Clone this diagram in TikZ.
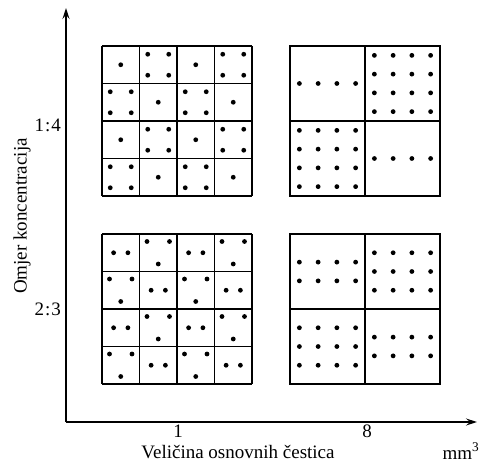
\documentclass[tikz,border=0pt]{standalone}
\usepackage{fontspec}
\setmainfont{Liberation Serif}
\usetikzlibrary{arrows.meta}
\begin{document}
\begin{tikzpicture}[x=1bp,y=-1bp,
  axis/.style={line width=1.5bp, -{Stealth[length=11bp,width=7bp,inset=4bp]}},
  frame/.style={line width=1.3bp},
  lbl/.style={font=\fontsize{19bp}{21bp}\selectfont, inner sep=0pt}]
\useasboundingbox (0,0) rectangle (484,464);
\newcommand\pdot[2]{\fill (#1,#2) circle[radius=2.4bp];}
% axes
\coordinate (O) at (66,422);
\coordinate (ytip) at (66,8);
\coordinate (xtip) at (477,422);
\draw[axis] (O) -- (ytip);
\draw[axis] (O) -- (xtip);
% axis labels
\node[lbl, anchor=east] (r14) at (61,125) {1\kern1bp:\kern1bp4};
\node[lbl, anchor=east] (r23) at (61,309) {2\kern1bp:\kern1bp3};
\node[lbl, rotate=90] (ylab) at (22,216) {Omjer koncentracija};
\node[lbl] (s1) at (178,431) {1};
\node[lbl] (s8) at (367,431) {8};
\node[lbl] (xlab) at (238,452) {Veličina osnovnih čestica};
\node[lbl] (unit) at (461,451) {mm\textsuperscript{3}};
% --- top left: 4x4 cells, 1 or 4 particles
\begin{scope}[shift={(102,46)}]
  \foreach \k in {0,...,4} {
    \draw[frame] (37.5*\k,0) -- (37.5*\k,150);
    \draw[frame] (0,37.5*\k) -- (150,37.5*\k);
  }
  \foreach \r in {0,...,3} \foreach \c in {0,...,3} {
    \pgfmathtruncatemacro\odd{mod(\r+\c,2)}
    \begin{scope}[shift={(37.5*\c,37.5*\r)}]
      \ifnum\odd=0
        \pdot{18.75}{18.75}
      \else
        \pdot{8.25}{8.25}\pdot{29.25}{8.25}\pdot{8.25}{29.25}\pdot{29.25}{29.25}
      \fi
    \end{scope}
  }
\end{scope}
% --- bottom left: 4x4 cells, 2 or 3 particles
\begin{scope}[shift={(102,234)}]
  \foreach \k in {0,...,4} {
    \draw[frame] (37.5*\k,0) -- (37.5*\k,150);
    \draw[frame] (0,37.5*\k) -- (150,37.5*\k);
  }
  \foreach \r in {0,...,3} \foreach \c in {0,...,3} {
    \pgfmathtruncatemacro\odd{mod(\r+\c,2)}
    \begin{scope}[shift={(37.5*\c,37.5*\r)}]
      \ifnum\odd=0
        \pdot{11.6}{18.75}\pdot{25.9}{18.75}
      \else
        \pdot{7.5}{7.5}\pdot{30}{7.5}\pdot{18.75}{30}
      \fi
    \end{scope}
  }
\end{scope}
% --- top right: 2x2 cells, 4 or 16 particles
\begin{scope}[shift={(290,46)}]
  \draw[frame] (0,0) rectangle (150,150);
  \draw[frame] (75,0) -- (75,150);
  \draw[frame] (0,75) -- (150,75);
  \foreach \i in {0,...,3} {
    \pdot{9.375+18.75*\i}{37.5}
    \pdot{84.375+18.75*\i}{112.5}
    \foreach \j in {0,...,3} {
      \pdot{84.375+18.75*\i}{9.375+18.75*\j}
      \pdot{9.375+18.75*\i}{84.375+18.75*\j}
    }
  }
\end{scope}
% --- bottom right: 2x2 cells, 8 or 12 particles
\begin{scope}[shift={(290,234)}]
  \draw[frame] (0,0) rectangle (150,150);
  \draw[frame] (75,0) -- (75,150);
  \draw[frame] (0,75) -- (150,75);
  \foreach \i in {0,...,3} {
    \foreach \j in {0,1} {
      \pdot{9.375+18.75*\i}{28.125+18.75*\j}
      \pdot{84.375+18.75*\i}{103.125+18.75*\j}
    }
    \foreach \j in {0,1,2} {
      \pdot{84.375+18.75*\i}{18.75+18.75*\j}
      \pdot{9.375+18.75*\i}{93.75+18.75*\j}
    }
  }
\end{scope}
\end{tikzpicture}
\end{document}
